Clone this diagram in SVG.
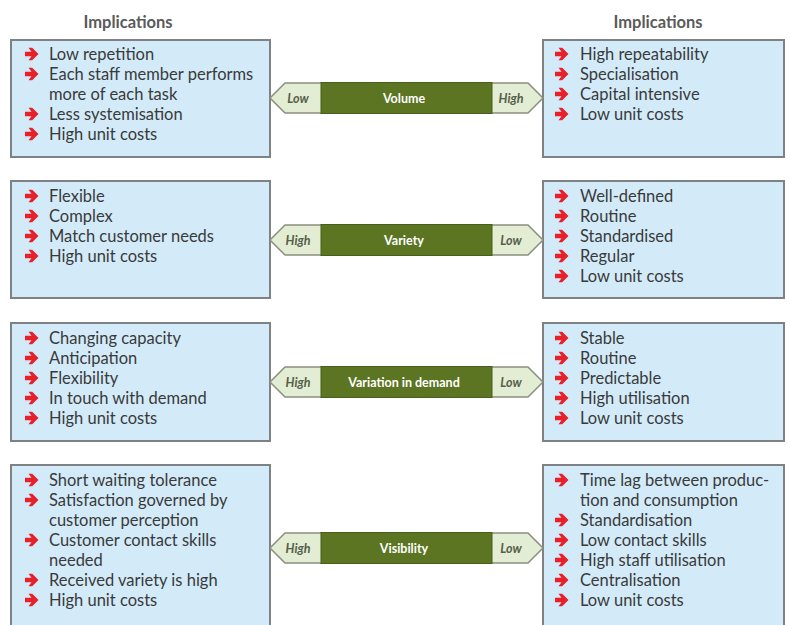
<svg xmlns="http://www.w3.org/2000/svg" xmlns:xlink="http://www.w3.org/1999/xlink" width="790" height="625" viewBox="0 0 790 625">
  <style>
    .box { fill: #d3ebf9; stroke: #7f8284; stroke-width: 2; }
    .txt { font-family: Lato, "Open Sans", "Liberation Sans", sans-serif; font-size: 16.5px; fill: #3a3a3a; }
    .head { font-family: Lato, "Open Sans", "Liberation Sans", sans-serif; font-size: 16.5px; font-weight: bold; fill: #5a5a5a; text-anchor: middle; }
    .bar { fill: #5b7523; stroke: #4a5e1c; stroke-width: 1; }
    .cap { fill: #e3edd3; stroke: #8c8f80; stroke-width: 1.5; }
    .barlbl { font-family: Lato, "Open Sans", "Liberation Sans", sans-serif; font-size: 12.5px; font-weight: bold; fill: #ffffff; text-anchor: middle; }
    .caplbl { font-family: Lato, "Open Sans", "Liberation Sans", sans-serif; font-size: 12.5px; font-weight: bold; font-style: italic; fill: #55604a; text-anchor: middle; }
  </style>
  <defs>
    <path id="bullet" d="M0,-2.2 L6.5,-2.2 L3.5,-6.2 L7.2,-6.2 L13.5,0 L7.2,6.2 L3.5,6.2 L6.5,2.2 L0,2.2 Z" fill="#e8202a"/>
  </defs>
  <rect width="790" height="625" fill="#ffffff"/>

  <text class="head" x="128" y="28">Implications</text>
  <text class="head" x="658" y="28">Implications</text>

  <!-- Left column: implications of the low/high end -->
  <g id="left-volume">
    <rect class="box" x="11" y="40" width="259" height="117"/>
    <use xlink:href="#bullet" x="25" y="54"/><text class="txt" x="49" y="59.5">Low repetition</text>
    <use xlink:href="#bullet" x="25" y="74"/><text class="txt" x="49" y="79.5">Each staff member performs</text>
    <text class="txt" x="49" y="99.5">more of each task</text>
    <use xlink:href="#bullet" x="25" y="114"/><text class="txt" x="49" y="119.5">Less systemisation</text>
    <use xlink:href="#bullet" x="25" y="134"/><text class="txt" x="49" y="139.5">High unit costs</text>
  </g>
  <g id="left-variety">
    <rect class="box" x="11" y="181" width="259" height="117"/>
    <use xlink:href="#bullet" x="25" y="196"/><text class="txt" x="49" y="201.5">Flexible</text>
    <use xlink:href="#bullet" x="25" y="216"/><text class="txt" x="49" y="221.5">Complex</text>
    <use xlink:href="#bullet" x="25" y="236"/><text class="txt" x="49" y="241.5">Match customer needs</text>
    <use xlink:href="#bullet" x="25" y="256"/><text class="txt" x="49" y="261.5">High unit costs</text>
  </g>
  <g id="left-variation">
    <rect class="box" x="11" y="323" width="259" height="118"/>
    <use xlink:href="#bullet" x="25" y="338"/><text class="txt" x="49" y="343.5">Changing capacity</text>
    <use xlink:href="#bullet" x="25" y="358"/><text class="txt" x="49" y="363.5">Anticipation</text>
    <use xlink:href="#bullet" x="25" y="378"/><text class="txt" x="49" y="383.5">Flexibility</text>
    <use xlink:href="#bullet" x="25" y="398"/><text class="txt" x="49" y="403.5">In touch with demand</text>
    <use xlink:href="#bullet" x="25" y="418"/><text class="txt" x="49" y="423.5">High unit costs</text>
  </g>
  <g id="left-visibility">
    <rect class="box" x="11" y="465" width="259" height="175"/>
    <use xlink:href="#bullet" x="25" y="480"/><text class="txt" x="49" y="485.5">Short waiting tolerance</text>
    <use xlink:href="#bullet" x="25" y="500"/><text class="txt" x="49" y="505.5">Satisfaction governed by</text>
    <text class="txt" x="49" y="525.5">customer perception</text>
    <use xlink:href="#bullet" x="25" y="540"/><text class="txt" x="49" y="545.5">Customer contact skills</text>
    <text class="txt" x="49" y="565.5">needed</text>
    <use xlink:href="#bullet" x="25" y="580"/><text class="txt" x="49" y="585.5">Received variety is high</text>
    <use xlink:href="#bullet" x="25" y="600"/><text class="txt" x="49" y="605.5">High unit costs</text>
  </g>

  <!-- Right column: implications of the opposite end -->
  <g id="right-volume">
    <rect class="box" x="543" y="40" width="241" height="117"/>
    <use xlink:href="#bullet" x="555" y="54"/><text class="txt" x="580" y="59.5">High repeatability</text>
    <use xlink:href="#bullet" x="555" y="74"/><text class="txt" x="580" y="79.5">Specialisation</text>
    <use xlink:href="#bullet" x="555" y="94"/><text class="txt" x="580" y="99.5">Capital intensive</text>
    <use xlink:href="#bullet" x="555" y="114"/><text class="txt" x="580" y="119.5">Low unit costs</text>
  </g>
  <g id="right-variety">
    <rect class="box" x="543" y="181" width="241" height="117"/>
    <use xlink:href="#bullet" x="555" y="196"/><text class="txt" x="580" y="201.5">Well-defined</text>
    <use xlink:href="#bullet" x="555" y="216"/><text class="txt" x="580" y="221.5">Routine</text>
    <use xlink:href="#bullet" x="555" y="236"/><text class="txt" x="580" y="241.5">Standardised</text>
    <use xlink:href="#bullet" x="555" y="256"/><text class="txt" x="580" y="261.5">Regular</text>
    <use xlink:href="#bullet" x="555" y="276"/><text class="txt" x="580" y="281.5">Low unit costs</text>
  </g>
  <g id="right-variation">
    <rect class="box" x="543" y="323" width="241" height="118"/>
    <use xlink:href="#bullet" x="555" y="338"/><text class="txt" x="580" y="343.5">Stable</text>
    <use xlink:href="#bullet" x="555" y="358"/><text class="txt" x="580" y="363.5">Routine</text>
    <use xlink:href="#bullet" x="555" y="378"/><text class="txt" x="580" y="383.5">Predictable</text>
    <use xlink:href="#bullet" x="555" y="398"/><text class="txt" x="580" y="403.5">High utilisation</text>
    <use xlink:href="#bullet" x="555" y="418"/><text class="txt" x="580" y="423.5">Low unit costs</text>
  </g>
  <g id="right-visibility">
    <rect class="box" x="543" y="465" width="241" height="175"/>
    <use xlink:href="#bullet" x="555" y="480"/><text class="txt" x="580" y="485.5">Time lag between produc-</text>
    <text class="txt" x="580" y="505.5">tion and consumption</text>
    <use xlink:href="#bullet" x="555" y="520"/><text class="txt" x="580" y="525.5">Standardisation</text>
    <use xlink:href="#bullet" x="555" y="540"/><text class="txt" x="580" y="545.5">Low contact skills</text>
    <use xlink:href="#bullet" x="555" y="560"/><text class="txt" x="580" y="565.5">High staff utilisation</text>
    <use xlink:href="#bullet" x="555" y="580"/><text class="txt" x="580" y="585.5">Centralisation</text>
    <use xlink:href="#bullet" x="555" y="600"/><text class="txt" x="580" y="605.5">Low unit costs</text>
  </g>

  <!-- Dimension bars (double-ended arrows) -->
  <g id="connectors">
    <g id="bar-volume" transform="translate(0,98)">
      <polygon class="cap" points="270,0 285,-15 322,-15 322,15 285,15"/>
      <polygon class="cap" points="543,0 528,-15 491,-15 491,15 528,15"/>
      <rect class="bar" x="321" y="-15.5" width="171" height="31"/>
      <text class="caplbl" x="298" y="4.5">Low</text>
      <text class="barlbl" x="404" y="4.5">Volume</text>
      <text class="caplbl" x="511" y="4.5">High</text>
    </g>
    <g id="bar-variety" transform="translate(0,240)">
      <polygon class="cap" points="270,0 285,-15 322,-15 322,15 285,15"/>
      <polygon class="cap" points="543,0 528,-15 491,-15 491,15 528,15"/>
      <rect class="bar" x="321" y="-15.5" width="171" height="31"/>
      <text class="caplbl" x="298" y="4.5">High</text>
      <text class="barlbl" x="404" y="4.5">Variety</text>
      <text class="caplbl" x="511" y="4.5">Low</text>
    </g>
    <g id="bar-variation" transform="translate(0,382)">
      <polygon class="cap" points="270,0 285,-15 322,-15 322,15 285,15"/>
      <polygon class="cap" points="543,0 528,-15 491,-15 491,15 528,15"/>
      <rect class="bar" x="321" y="-15.5" width="171" height="31"/>
      <text class="caplbl" x="298" y="4.5">High</text>
      <text class="barlbl" x="404" y="4.5">Variation in demand</text>
      <text class="caplbl" x="511" y="4.5">Low</text>
    </g>
    <g id="bar-visibility" transform="translate(0,548)">
      <polygon class="cap" points="270,0 285,-15 322,-15 322,15 285,15"/>
      <polygon class="cap" points="543,0 528,-15 491,-15 491,15 528,15"/>
      <rect class="bar" x="321" y="-15.5" width="171" height="31"/>
      <text class="caplbl" x="298" y="4.5">High</text>
      <text class="barlbl" x="404" y="4.5">Visibility</text>
      <text class="caplbl" x="511" y="4.5">Low</text>
    </g>
  </g>
</svg>
